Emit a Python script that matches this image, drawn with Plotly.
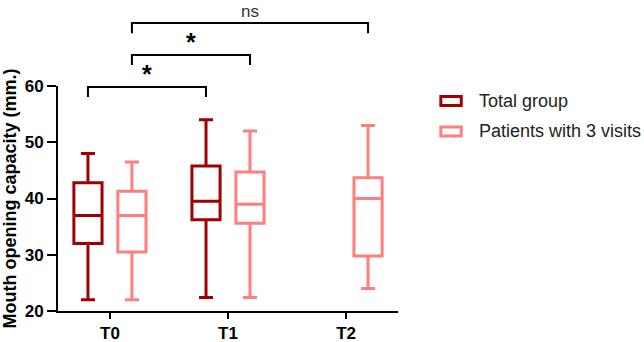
import plotly.graph_objects as go

categories = ["T0", "T1", "T2"]

total_x = ["T0", "T1"]
total_lower = [22.0, 22.4]
total_q1 = [32.0, 36.2]
total_median = [37.0, 39.5]
total_q3 = [42.8, 45.8]
total_upper = [48.0, 54.0]

pat_x = ["T0", "T1", "T2"]
pat_lower = [22.0, 22.4, 24.0]
pat_q1 = [30.5, 35.6, 29.8]
pat_median = [37.0, 39.0, 40.0]
pat_q3 = [41.3, 44.7, 43.7]
pat_upper = [46.5, 52.0, 53.0]

series_names = ["Total group", "Patients with 3 visits"]

# comparisons: (category a, group a, category b, group b, label)
comparisons = [
    ("T0", "total", "T1", "total", "*"),
    ("T0", "patients", "T1", "patients", "*"),
    ("T0", "patients", "T2", "patients", "ns"),
]

DARK = "#A00000"
LIGHT = "#FF7E7E"

BOXGAP = 0.255
BOXGROUPGAP = 0.36
group_offset = (1 - BOXGAP) / 4

fig = go.Figure()
fig.add_trace(go.Box(
    name=series_names[0], x=total_x, q1=total_q1, median=total_median, q3=total_q3,
    lowerfence=total_lower, upperfence=total_upper,
    line=dict(color=DARK, width=3), fillcolor="white", whiskerwidth=0.5,
    boxpoints=False, hoverinfo="skip", showlegend=False,
))
fig.add_trace(go.Box(
    name=series_names[1], x=pat_x, q1=pat_q1, median=pat_median, q3=pat_q3,
    lowerfence=pat_lower, upperfence=pat_upper,
    line=dict(color=LIGHT, width=3), fillcolor="white", whiskerwidth=0.5,
    boxpoints=False, hoverinfo="skip", showlegend=False,
))

# bracket levels in paper units above the plotting area
levels = [0.996, 1.138, 1.28]
drop = 0.045
for i, (ca, ga, cb, gb, lab) in enumerate(comparisons):
    xa = categories.index(ca) + (-group_offset if ga == "total" else group_offset)
    xb = categories.index(cb) + (-group_offset if gb == "total" else group_offset)
    yl = levels[i]
    fig.add_shape(type="path", xref="x", yref="paper",
                  path=f"M {xa},{yl-drop} L {xa},{yl} L {xb},{yl} L {xb},{yl-drop}",
                  line=dict(color="black", width=2), layer="above")
    if lab == "*":
        fig.add_annotation(x=(xa + xb) / 2, y=yl - 0.014, xref="x", yref="paper",
                           text="<b>*</b>", showarrow=False, yanchor="bottom",
                           font=dict(size=25, color="black", family="Arial"))
    else:
        fig.add_annotation(x=(xa + xb) / 2, y=yl + 0.0, xref="x", yref="paper",
                           text=lab, showarrow=False, yanchor="bottom",
                           font=dict(size=17, color="#333", family="Arial"))

# custom legend (wide box icons)
legend_colors = [DARK, LIGHT]
legend_y = [0.933, 0.798]
for name, col, ly in zip(series_names, legend_colors, legend_y):
    fig.add_shape(type="rect", xref="paper", yref="paper",
                  x0=1.126, x1=1.186, y0=ly - 0.02, y1=ly + 0.02,
                  line=dict(color=col, width=3), fillcolor="white")
    fig.add_annotation(x=1.232, y=ly, xref="paper", yref="paper", text=name,
                       showarrow=False, xanchor="left", yanchor="middle",
                       font=dict(size=18, color="#222", family="Arial"))

fig.update_layout(
    width=644, height=342,
    margin=dict(l=58, r=246, t=86, b=31),
    paper_bgcolor="white", plot_bgcolor="white",
    boxmode="group", boxgap=BOXGAP, boxgroupgap=BOXGROUPGAP,
    font=dict(family="Arial", color="black"),
    showlegend=False,
)
fig.update_xaxes(
    type="category", categoryorder="array", categoryarray=categories,
    range=[-0.44, 2.44], showline=True, linecolor="black", linewidth=2,
    ticks="outside", ticklen=6, tickwidth=2, tickcolor="black",
    tickfont=dict(size=17, family="Arial", color="black"),
    showgrid=False, zeroline=False, automargin=False,
    tickvals=categories, ticktext=[f"<b>{c}</b>" for c in categories],
)
fig.update_yaxes(
    range=[20, 60], tickvals=[20, 30, 40, 50, 60],
    ticktext=[f"<b>{v}</b>" for v in [20, 30, 40, 50, 60]],
    showline=True, linecolor="black", linewidth=2,
    ticks="outside", ticklen=9, tickwidth=2, tickcolor="black",
    tickfont=dict(size=17, color="black"),
    showgrid=False, zeroline=False, automargin=False,
    title=dict(text="<b>Mouth opening capacity (mm.)</b>", font=dict(size=18), standoff=4),
)
fig.write_html("out.html", config={"displayModeBar": False},
               post_script="document.body.style.margin='0';document.body.style.overflow='hidden';")
